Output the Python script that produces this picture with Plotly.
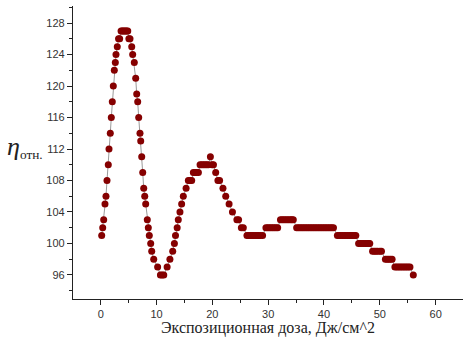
import plotly.graph_objects as go

# Exposure dose (J/cm^2) and relative eta
DOSE = [
    0.18, 0.36, 0.54, 0.77, 0.95, 1.13, 1.36, 1.49, 1.72, 1.90, 2.08, 2.26, 2.44, 2.62, 2.74, 2.97,
    3.2, 3.4, 3.65, 3.85, 4.05, 4.25, 4.45, 4.65, 4.85, 5.05, 5.25, 5.56, 5.73, 6.02, 6.27, 6.45,
    6.63, 6.81, 7.04, 7.17, 7.35, 7.53, 7.71, 7.89, 8.06, 8.35, 8.53, 8.71, 8.96, 9.14, 9.5, 10.2,
    10.7, 11.0, 11.3, 11.9, 12.4, 12.9, 13.2, 13.4, 13.7, 13.9, 14.2, 14.5, 14.8, 15.3,
    15.7, 16.0, 16.3, 16.6, 16.9, 17.2, 17.5, 17.8, 18.1, 18.4, 18.7, 19.0, 19.3, 19.65, 19.95, 20.2,
    20.6, 21.0, 21.3, 21.9, 22.4, 23.0, 23.6, 24.4, 24.7, 25.2, 25.55,
    26.2, 26.5, 26.8, 27.1, 27.4, 27.7, 28.0, 28.3, 28.6, 29.0,
    29.6, 29.9, 30.2, 30.5, 30.8, 31.1, 31.4, 31.7,
    32.2, 32.5, 32.8, 33.1, 33.4, 33.7, 34.0, 34.25, 34.5,
    35.1, 35.4, 35.7, 36.0, 36.3, 36.6, 36.9, 37.2, 37.5, 37.8, 38.1, 38.4, 38.7, 39.0, 39.3, 39.6,
    39.9, 40.2, 40.5, 40.8, 41.1, 41.4, 41.7,
    42.4, 42.7, 43.0, 43.3, 43.6, 43.9, 44.2, 44.5, 44.8, 45.1, 45.4, 45.7,
    46.2, 46.5, 46.8, 47.1, 47.4, 47.7, 48.0, 48.2,
    48.7, 49.0, 49.3, 49.6, 50.0, 50.3,
    51.0, 51.3, 51.6, 51.9, 52.2,
    52.7, 53.0, 53.3, 53.6, 53.9, 54.2, 54.5, 54.8, 55.1, 55.4,
    56.0,
]
ETA = [
    101, 102, 103, 105, 106, 108, 110, 112, 114, 116, 118, 120, 122, 123, 124, 125,
    126, 126, 127, 127, 127, 127, 127, 127, 127, 126, 126, 125, 124, 123, 121, 119,
    118, 116, 114, 113, 111, 109, 107, 106, 105, 103, 102, 101, 100, 99, 98, 97,
    96, 96, 96, 97, 98, 99, 100, 101, 102, 103, 104, 105, 106, 107,
    108, 108, 108, 109, 109, 109, 109, 110, 110, 110, 110, 110, 110, 111, 110, 110,
    109, 108, 108, 107, 106, 105, 104, 103, 103, 102, 102,
    101, 101, 101, 101, 101, 101, 101, 101, 101, 101,
    102, 102, 102, 102, 102, 102, 102, 102,
    103, 103, 103, 103, 103, 103, 103, 103, 103,
    102, 102, 102, 102, 102, 102, 102, 102, 102, 102, 102, 102, 102, 102, 102, 102,
    102, 102, 102, 102, 102, 102, 102,
    101, 101, 101, 101, 101, 101, 101, 101, 101, 101, 101, 101,
    100, 100, 100, 100, 100, 100, 100, 100,
    99, 99, 99, 99, 99, 99,
    98, 98, 98, 98, 98,
    97, 97, 97, 97, 97, 97, 97, 97, 97, 97,
    96,
]

X_TITLE = "Экспозиционная доза, Дж/см^2"
Y_TITLE = "<span style='font-size:26px'><i>η</i></span><sub>отн.</sub>"

fig = go.Figure()
fig.add_trace(go.Scatter(
    x=DOSE, y=ETA, mode="lines+markers",
    line=dict(color="#9a9a9a", width=1),
    marker=dict(color="#850000", size=7, line=dict(width=0)),
    showlegend=False,
))

axis_common = dict(
    showline=True, linecolor="#222", linewidth=1.2, mirror=False,
    showgrid=False, zeroline=False,
    ticks="outside", ticklen=5, tickwidth=1, tickcolor="#222",
    tickfont=dict(family="Liberation Sans, Arial", size=11, color="#333"),
)

fig.update_xaxes(
    range=[-4.96, 64.9], tick0=0, dtick=10,
    minor=dict(ticks="outside", ticklen=3, dtick=5, tickcolor="#222", showgrid=False),
    **axis_common,
)
fig.update_yaxes(
    range=[92.95, 130.16], tick0=96, dtick=4,
    minor=dict(ticks="outside", ticklen=3, dtick=2, tickcolor="#222", showgrid=False),
    **axis_common,
)

fig.update_layout(
    width=463, height=338,
    margin=dict(l=73, r=0, t=6, b=39),
    paper_bgcolor="white", plot_bgcolor="white",
    annotations=[
        dict(text=X_TITLE, xref="paper", yref="paper", x=0.5, y=-0.1,
             xanchor="center", yanchor="middle", showarrow=False,
             font=dict(family="Liberation Serif, Times New Roman", size=16, color="#222")),
        dict(text=Y_TITLE, xref="paper", yref="y", x=-0.175, y=112.3,
             xanchor="left", yanchor="middle", showarrow=False,
             font=dict(family="Liberation Serif, Times New Roman", size=19, color="#222")),
    ],
)

fig.write_html("out.html", config={"displayModeBar": False},
               post_script="document.body.style.margin='0';")
